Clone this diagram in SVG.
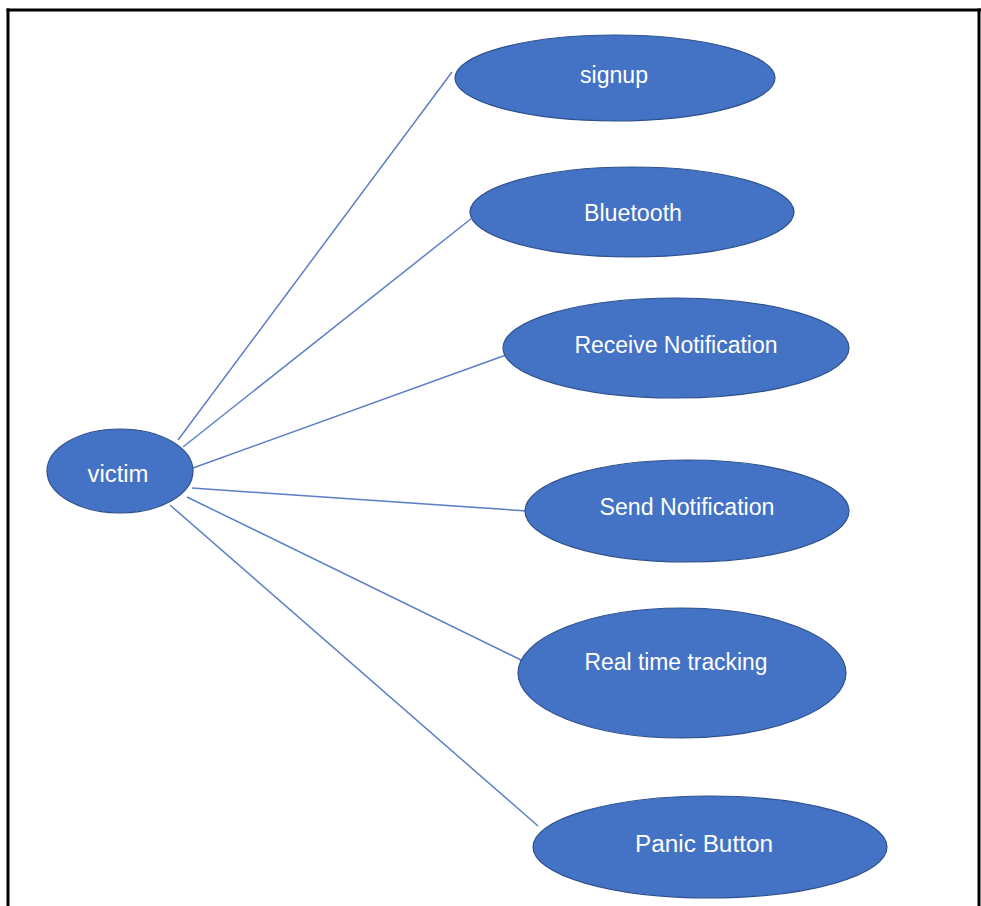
<svg xmlns="http://www.w3.org/2000/svg" width="981" height="906" viewBox="0 0 981 906">
<style>
.node ellipse{fill:#4472C4;stroke:#2F528F;stroke-width:1.2}
.node text{fill:#FFFFFF;font-family:"Liberation Sans",Arial,sans-serif;font-size:23px;text-anchor:middle}
.conn line{stroke:#5B7FC7;stroke-width:1.5}
</style>
<rect width="981" height="906" fill="#FFFFFF"/>
<g id="frame" stroke="#000000" stroke-width="3" fill="none">
<line x1="6.5" y1="10" x2="981" y2="10"/>
<line x1="8" y1="8.5" x2="8" y2="906"/>
<line x1="979" y1="8.5" x2="979" y2="906"/>
</g>
<g id="connectors" class="conn">
<line x1="178" y1="440" x2="452" y2="72"/>
<line x1="183" y1="447" x2="472" y2="218"/>
<line x1="193" y1="468" x2="506" y2="355"/>
<line x1="192" y1="488" x2="527" y2="511"/>
<line x1="187" y1="497" x2="521" y2="660"/>
<line x1="170" y1="505" x2="538" y2="826"/>
</g>
<g id="victim" class="node"><ellipse cx="120" cy="471" rx="73" ry="42"/><text x="118" y="482" textLength="61" lengthAdjust="spacingAndGlyphs">victim</text></g>
<g id="signup" class="node"><ellipse cx="615" cy="78" rx="160" ry="43"/><text x="614" y="83" textLength="68" lengthAdjust="spacingAndGlyphs">signup</text></g>
<g id="bluetooth" class="node"><ellipse cx="632" cy="212" rx="162" ry="45"/><text x="633" y="221" textLength="98" lengthAdjust="spacingAndGlyphs">Bluetooth</text></g>
<g id="receive" class="node"><ellipse cx="676" cy="348" rx="173" ry="50"/><text x="676" y="353" textLength="203" lengthAdjust="spacingAndGlyphs">Receive Notification</text></g>
<g id="send" class="node"><ellipse cx="687" cy="511" rx="162" ry="51"/><text x="687" y="515" textLength="175" lengthAdjust="spacingAndGlyphs">Send Notification</text></g>
<g id="realtime" class="node"><ellipse cx="682" cy="673" rx="164" ry="65"/><text x="676" y="670" textLength="183" lengthAdjust="spacingAndGlyphs">Real time tracking</text></g>
<g id="panic" class="node"><ellipse cx="710" cy="847" rx="177" ry="51"/><text x="704" y="852" textLength="138" lengthAdjust="spacingAndGlyphs">Panic Button</text></g>
</svg>
